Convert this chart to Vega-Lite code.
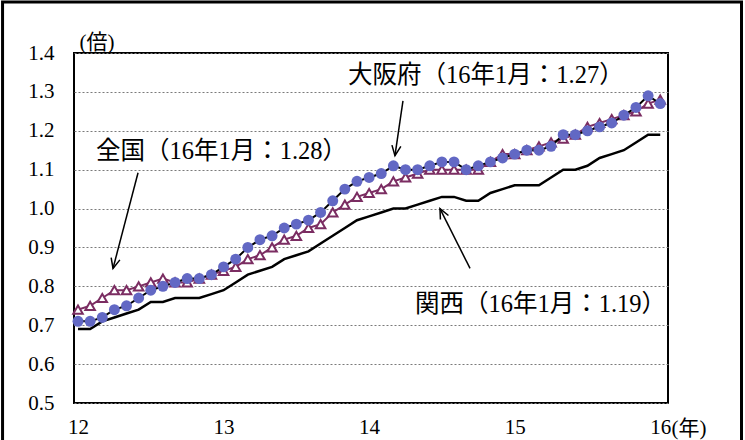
{
  "$schema": "https://vega.github.io/schema/vega-lite/v6.json",
  "width": 594,
  "height": 350,
  "autosize": "none",
  "padding": {"left": 74, "top": 53, "right": 77, "bottom": 37},
  "background": "white",
  "config": {
    "view": {"stroke": "black", "strokeWidth": 2},
    "font": "Liberation Serif",
    "axis": {"labelFont": "Liberation Serif", "titleFont": "Liberation Serif, Noto Sans CJK JP", "labelColor": "black", "titleColor": "black", "titleFontWeight": "normal", "ticks": false, "domain": false, "labelOverlap": false},
    "axisX": {"grid": false, "labelPadding": 13, "titleX": 597, "titleY": 25, "titleAlign": "left", "titleBaseline": "middle"},
    "axisY": {"grid": true, "gridDash": [2, 2], "gridColor": "#7a7a7a", "gridWidth": 1, "labelPadding": 20, "titleAngle": 0, "titleX": 5, "titleY": -11, "titleAlign": "left", "titleBaseline": "middle"}
  },
  "datasets": {
    "ratio": [
      {"m": 0, "kansai": 0.69, "osaka": 0.71, "zenkoku": 0.74},
      {"m": 1, "kansai": 0.69, "osaka": 0.71, "zenkoku": 0.75},
      {"m": 2, "kansai": 0.71, "osaka": 0.72, "zenkoku": 0.77},
      {"m": 3, "kansai": 0.72, "osaka": 0.74, "zenkoku": 0.79},
      {"m": 4, "kansai": 0.73, "osaka": 0.75, "zenkoku": 0.79},
      {"m": 5, "kansai": 0.74, "osaka": 0.77, "zenkoku": 0.80},
      {"m": 6, "kansai": 0.76, "osaka": 0.79, "zenkoku": 0.81},
      {"m": 7, "kansai": 0.76, "osaka": 0.80, "zenkoku": 0.82},
      {"m": 8, "kansai": 0.77, "osaka": 0.81, "zenkoku": 0.81},
      {"m": 9, "kansai": 0.77, "osaka": 0.82, "zenkoku": 0.81},
      {"m": 10, "kansai": 0.77, "osaka": 0.82, "zenkoku": 0.82},
      {"m": 11, "kansai": 0.78, "osaka": 0.83, "zenkoku": 0.83},
      {"m": 12, "kansai": 0.79, "osaka": 0.85, "zenkoku": 0.84},
      {"m": 13, "kansai": 0.81, "osaka": 0.87, "zenkoku": 0.85},
      {"m": 14, "kansai": 0.83, "osaka": 0.90, "zenkoku": 0.87},
      {"m": 15, "kansai": 0.84, "osaka": 0.92, "zenkoku": 0.88},
      {"m": 16, "kansai": 0.85, "osaka": 0.93, "zenkoku": 0.90},
      {"m": 17, "kansai": 0.87, "osaka": 0.95, "zenkoku": 0.92},
      {"m": 18, "kansai": 0.88, "osaka": 0.96, "zenkoku": 0.93},
      {"m": 19, "kansai": 0.89, "osaka": 0.97, "zenkoku": 0.95},
      {"m": 20, "kansai": 0.91, "osaka": 0.99, "zenkoku": 0.96},
      {"m": 21, "kansai": 0.93, "osaka": 1.02, "zenkoku": 0.99},
      {"m": 22, "kansai": 0.95, "osaka": 1.05, "zenkoku": 1.01},
      {"m": 23, "kansai": 0.97, "osaka": 1.07, "zenkoku": 1.03},
      {"m": 24, "kansai": 0.98, "osaka": 1.08, "zenkoku": 1.04},
      {"m": 25, "kansai": 0.99, "osaka": 1.09, "zenkoku": 1.05},
      {"m": 26, "kansai": 1.00, "osaka": 1.11, "zenkoku": 1.07},
      {"m": 27, "kansai": 1.00, "osaka": 1.10, "zenkoku": 1.08},
      {"m": 28, "kansai": 1.01, "osaka": 1.10, "zenkoku": 1.09},
      {"m": 29, "kansai": 1.02, "osaka": 1.11, "zenkoku": 1.10},
      {"m": 30, "kansai": 1.03, "osaka": 1.12, "zenkoku": 1.10},
      {"m": 31, "kansai": 1.03, "osaka": 1.12, "zenkoku": 1.10},
      {"m": 32, "kansai": 1.02, "osaka": 1.10, "zenkoku": 1.10},
      {"m": 33, "kansai": 1.02, "osaka": 1.11, "zenkoku": 1.10},
      {"m": 34, "kansai": 1.04, "osaka": 1.12, "zenkoku": 1.12},
      {"m": 35, "kansai": 1.05, "osaka": 1.13, "zenkoku": 1.14},
      {"m": 36, "kansai": 1.06, "osaka": 1.14, "zenkoku": 1.14},
      {"m": 37, "kansai": 1.06, "osaka": 1.15, "zenkoku": 1.15},
      {"m": 38, "kansai": 1.06, "osaka": 1.15, "zenkoku": 1.16},
      {"m": 39, "kansai": 1.08, "osaka": 1.16, "zenkoku": 1.17},
      {"m": 40, "kansai": 1.10, "osaka": 1.19, "zenkoku": 1.18},
      {"m": 41, "kansai": 1.10, "osaka": 1.19, "zenkoku": 1.19},
      {"m": 42, "kansai": 1.11, "osaka": 1.20, "zenkoku": 1.21},
      {"m": 43, "kansai": 1.13, "osaka": 1.21, "zenkoku": 1.22},
      {"m": 44, "kansai": 1.14, "osaka": 1.22, "zenkoku": 1.23},
      {"m": 45, "kansai": 1.15, "osaka": 1.24, "zenkoku": 1.24},
      {"m": 46, "kansai": 1.17, "osaka": 1.26, "zenkoku": 1.25},
      {"m": 47, "kansai": 1.19, "osaka": 1.29, "zenkoku": 1.27},
      {"m": 48, "kansai": 1.19, "osaka": 1.27, "zenkoku": 1.28}
    ],
    "notes": [
      {"name": "osaka", "text": "大阪府（16年1月：1.27）", "tx": 22.26, "ty": 1.341, "ax": 26.79, "ay": 1.277, "hx": 26.13, "hy": 1.136},
      {"name": "zenkoku", "text": "全国（16年1月：1.28）", "tx": 1.48, "ty": 1.145, "ax": 4.95, "ay": 1.092, "hx": 2.885, "hy": 0.846},
      {"name": "kansai", "text": "関西（16年1月：1.19）", "tx": 27.78, "ty": 0.752, "ax": 32.32, "ay": 0.846, "hx": 29.84, "hy": 1.0}
    ]
  },
  "layer": [
    {
      "data": {"name": "ratio"},
      "mark": {"type": "line", "color": "black", "strokeWidth": 2.5},
      "encoding": {
        "x": {"field": "m", "type": "quantitative", "title": "(年)", "scale": {"domain": [-0.33, 48.64], "nice": false, "zero": false}, "axis": {"values": [0, 12, 24, 36, 48], "labelExpr": "format(datum.value / 12 + 12, 'd')", "labelFontSize": 21, "titleFontSize": 21}},
        "y": {"field": "kansai", "type": "quantitative", "title": "(倍)", "scale": {"domain": [0.5, 1.4], "nice": false, "zero": false}, "axis": {"values": [0.5, 0.6, 0.7, 0.8, 0.9, 1.0, 1.1, 1.2, 1.3, 1.4], "format": ".1f", "labelFontSize": 21, "titleFontSize": 21}}
      }
    },
    {
      "data": {"name": "ratio"},
      "mark": {"type": "line", "color": "#7B2D62", "strokeWidth": 2},
      "encoding": {
        "x": {"field": "m", "type": "quantitative", "title": "(年)", "axis": {"values": [0, 12, 24, 36, 48], "labelExpr": "format(datum.value / 12 + 12, 'd')", "labelFontSize": 21, "titleFontSize": 21}},
        "y": {"field": "zenkoku", "type": "quantitative", "title": "(倍)", "axis": {"values": [0.5, 0.6, 0.7, 0.8, 0.9, 1.0, 1.1, 1.2, 1.3, 1.4], "format": ".1f", "labelFontSize": 21, "titleFontSize": 21}}
      }
    },
    {
      "data": {"name": "ratio"},
      "mark": {"type": "point", "shape": "triangle-up", "filled": true, "fill": "white", "stroke": "#7B2D62", "strokeWidth": 2, "size": 90, "opacity": 1},
      "encoding": {
        "x": {"field": "m", "type": "quantitative", "title": "(年)", "axis": {"values": [0, 12, 24, 36, 48], "labelExpr": "format(datum.value / 12 + 12, 'd')", "labelFontSize": 21, "titleFontSize": 21}},
        "y": {"field": "zenkoku", "type": "quantitative", "title": "(倍)", "axis": {"values": [0.5, 0.6, 0.7, 0.8, 0.9, 1.0, 1.1, 1.2, 1.3, 1.4], "format": ".1f", "labelFontSize": 21, "titleFontSize": 21}}
      }
    },
    {
      "data": {"name": "ratio"},
      "mark": {"type": "line", "color": "black", "strokeWidth": 2},
      "encoding": {
        "x": {"field": "m", "type": "quantitative", "title": "(年)", "axis": {"values": [0, 12, 24, 36, 48], "labelExpr": "format(datum.value / 12 + 12, 'd')", "labelFontSize": 21, "titleFontSize": 21}},
        "y": {"field": "osaka", "type": "quantitative", "title": "(倍)", "axis": {"values": [0.5, 0.6, 0.7, 0.8, 0.9, 1.0, 1.1, 1.2, 1.3, 1.4], "format": ".1f", "labelFontSize": 21, "titleFontSize": 21}}
      }
    },
    {
      "data": {"name": "ratio"},
      "mark": {"type": "point", "shape": "circle", "filled": true, "fill": "#6268C4", "strokeWidth": 0, "size": 120, "opacity": 1},
      "encoding": {
        "x": {"field": "m", "type": "quantitative", "title": "(年)", "axis": {"values": [0, 12, 24, 36, 48], "labelExpr": "format(datum.value / 12 + 12, 'd')", "labelFontSize": 21, "titleFontSize": 21}},
        "y": {"field": "osaka", "type": "quantitative", "title": "(倍)", "axis": {"values": [0.5, 0.6, 0.7, 0.8, 0.9, 1.0, 1.1, 1.2, 1.3, 1.4], "format": ".1f", "labelFontSize": 21, "titleFontSize": 21}}
      }
    },
    {
      "data": {"name": "notes"},
      "mark": {"type": "text", "align": "left", "baseline": "middle", "fontSize": 24.5, "font": "Liberation Serif, Noto Sans CJK JP", "color": "black"},
      "encoding": {
        "x": {"field": "tx", "type": "quantitative", "title": "(年)", "axis": {"values": [0, 12, 24, 36, 48], "labelExpr": "format(datum.value / 12 + 12, 'd')", "labelFontSize": 21, "titleFontSize": 21}},
        "y": {"field": "ty", "type": "quantitative", "title": "(倍)", "axis": {"values": [0.5, 0.6, 0.7, 0.8, 0.9, 1.0, 1.1, 1.2, 1.3, 1.4], "format": ".1f", "labelFontSize": 21, "titleFontSize": 21}},
        "text": {"field": "text"}
      }
    },
    {
      "data": {"name": "notes"},
      "mark": {"type": "rule", "color": "black", "strokeWidth": 1.5},
      "encoding": {
        "x": {"field": "ax", "type": "quantitative", "title": "(年)", "axis": {"values": [0, 12, 24, 36, 48], "labelExpr": "format(datum.value / 12 + 12, 'd')", "labelFontSize": 21, "titleFontSize": 21}},
        "y": {"field": "ay", "type": "quantitative", "title": "(倍)", "axis": {"values": [0.5, 0.6, 0.7, 0.8, 0.9, 1.0, 1.1, 1.2, 1.3, 1.4], "format": ".1f", "labelFontSize": 21, "titleFontSize": 21}},
        "x2": {"field": "hx"},
        "y2": {"field": "hy"}
      }
    },
    {
      "data": {"name": "notes"},
      "transform": [{"filter": "datum.name == 'zenkoku'"}],
      "mark": {"type": "point", "shape": "M-0.45,-1L0,0L0.45,-1", "filled": false, "stroke": "black", "strokeWidth": 1.5, "size": 400, "angle": 14.6, "opacity": 1},
      "encoding": {
        "x": {"field": "hx", "type": "quantitative", "title": "(年)", "axis": {"values": [0, 12, 24, 36, 48], "labelExpr": "format(datum.value / 12 + 12, 'd')", "labelFontSize": 21, "titleFontSize": 21}},
        "y": {"field": "hy", "type": "quantitative", "title": "(倍)", "axis": {"values": [0.5, 0.6, 0.7, 0.8, 0.9, 1.0, 1.1, 1.2, 1.3, 1.4], "format": ".1f", "labelFontSize": 21, "titleFontSize": 21}}
      }
    },
    {
      "data": {"name": "notes"},
      "transform": [{"filter": "datum.name == 'osaka'"}],
      "mark": {"type": "point", "shape": "M-0.45,-1L0,0L0.45,-1", "filled": false, "stroke": "black", "strokeWidth": 1.5, "size": 400, "angle": 8.3, "opacity": 1},
      "encoding": {
        "x": {"field": "hx", "type": "quantitative", "title": "(年)", "axis": {"values": [0, 12, 24, 36, 48], "labelExpr": "format(datum.value / 12 + 12, 'd')", "labelFontSize": 21, "titleFontSize": 21}},
        "y": {"field": "hy", "type": "quantitative", "title": "(倍)", "axis": {"values": [0.5, 0.6, 0.7, 0.8, 0.9, 1.0, 1.1, 1.2, 1.3, 1.4], "format": ".1f", "labelFontSize": 21, "titleFontSize": 21}}
      }
    },
    {
      "data": {"name": "notes"},
      "transform": [{"filter": "datum.name == 'kansai'"}],
      "mark": {"type": "point", "shape": "M-0.45,-1L0,0L0.45,-1", "filled": false, "stroke": "black", "strokeWidth": 1.5, "size": 400, "angle": 153.4, "opacity": 1},
      "encoding": {
        "x": {"field": "hx", "type": "quantitative", "title": "(年)", "axis": {"values": [0, 12, 24, 36, 48], "labelExpr": "format(datum.value / 12 + 12, 'd')", "labelFontSize": 21, "titleFontSize": 21}},
        "y": {"field": "hy", "type": "quantitative", "title": "(倍)", "axis": {"values": [0.5, 0.6, 0.7, 0.8, 0.9, 1.0, 1.1, 1.2, 1.3, 1.4], "format": ".1f", "labelFontSize": 21, "titleFontSize": 21}}
      }
    },
    {
      "data": {"values": [{}]},
      "mark": {"type": "rect", "fill": null, "fillOpacity": 0, "stroke": "black", "strokeWidth": 3, "clip": false},
      "encoding": {
        "x": {"datum": -6.22, "type": "quantitative", "title": "(年)", "axis": {"values": [0, 12, 24, 36, 48], "labelExpr": "format(datum.value / 12 + 12, 'd')", "labelFontSize": 21, "titleFontSize": 21}},
        "x2": {"datum": 54.7},
        "y": {"datum": 1.531, "type": "quantitative", "title": "(倍)", "axis": {"values": [0.5, 0.6, 0.7, 0.8, 0.9, 1.0, 1.1, 1.2, 1.3, 1.4], "format": ".1f", "labelFontSize": 21, "titleFontSize": 21}},
        "y2": {"datum": 0.39}
      }
    }
  ]
}
